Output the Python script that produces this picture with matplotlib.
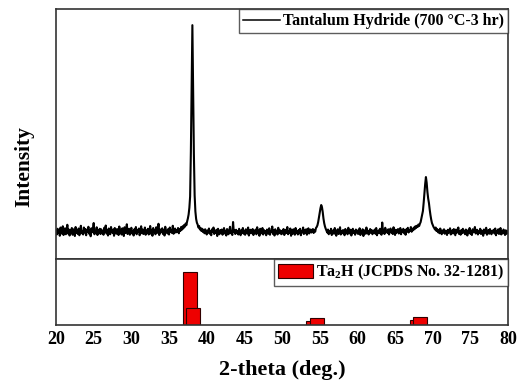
import numpy as np
import matplotlib
matplotlib.use("Agg")
import matplotlib.pyplot as plt
from matplotlib.patches import Patch
from matplotlib.lines import Line2D

plt.rcParams["font.family"] = ["Liberation Serif", "DejaVu Serif"]
plt.rcParams["font.weight"] = "bold"
plt.rcParams["mathtext.fontset"] = "custom"
plt.rcParams["mathtext.rm"] = "Liberation Serif:bold"
plt.rcParams["mathtext.bf"] = "Liberation Serif:bold"

# XRD scan: 2-theta from 20 to 80 deg, 0.1 deg step
two_theta_start = 20.0
two_theta_step = 0.1
intensity = [
    112, 98, 121, 105, 117, 93, 126, 108, 101, 131, 96, 114, 123, 99, 109, 137, 102, 118, 94, 115,
    107, 124, 97, 119, 111, 92, 128, 104, 116, 100, 122, 95, 113, 133, 103, 110, 98, 126, 106, 120,
    95, 117, 109, 129, 101, 114, 91, 123, 107, 118, 144, 99, 112, 104, 127, 96, 115, 108, 121, 100,
    119, 103, 113, 97, 125, 110, 134, 102, 116, 94, 122, 107, 99, 128, 111, 105, 118, 93, 124, 109,
    101, 120, 114, 96, 130, 106, 117, 98, 123, 110, 92, 127, 104, 115, 139, 100, 112, 121, 97, 108,
    125, 102, 111, 94, 119, 106, 128, 99, 116, 109, 122, 95, 113, 131, 103, 118, 100, 107, 126, 97,
    114, 105, 121, 98, 110, 132, 101, 117, 93, 124, 108, 115, 99, 127, 104, 112, 141, 96, 119, 106,
    111, 123, 100, 116, 94, 129, 107, 113, 102, 120, 98, 126, 109, 117, 104, 133, 101, 114, 122, 106,
    115, 108, 124, 103, 119, 112, 128, 117, 131, 122, 136, 129, 142, 135, 150, 162, 178, 205, 250, 430,
    700, 936, 660, 420, 255, 190, 160, 145, 138, 126, 132, 118, 124, 112, 121, 108, 117, 103, 119, 110,
    98, 114, 106, 122, 101, 111, 95, 119, 108, 126, 100, 113, 104, 117, 92, 121, 109, 99, 115, 105,
    118, 97, 110, 124, 102, 113, 94, 120, 107, 99, 116, 129, 103, 111, 96, 148, 108, 114, 100, 117,
    104, 112, 98, 121, 109, 95, 115, 106, 124, 101, 113, 97, 119, 108, 102, 126, 94, 111, 117, 103,
    109, 120, 96, 113, 105, 118, 99, 127, 107, 114, 93, 121, 102, 110, 124, 98, 116, 104, 112, 95,
    118, 106, 101, 123, 97, 112, 108, 130, 100, 115, 94, 119, 105, 111, 98, 125, 103, 116, 109, 99,
    113, 102, 120, 96, 108, 117, 104, 128, 99, 111, 106, 122, 93, 114, 101, 119, 107, 97, 124, 105,
    110, 98, 116, 103, 121, 95, 112, 107, 126, 100, 115, 104, 119, 97, 109, 123, 102, 113, 118, 106,
    111, 120, 104, 116, 109, 124, 128, 135, 148, 166, 184, 203, 216, 208, 188, 162, 143, 130, 121, 114,
    106, 118, 99, 112, 104, 121, 96, 110, 115, 101, 124, 107, 93, 113, 119, 100, 109, 127, 98, 111,
    103, 116, 108, 95, 120, 105, 113, 99, 125, 110, 102, 117, 94, 108, 121, 104, 112, 97, 118, 106,
    114, 100, 109, 123, 96, 111, 105, 119, 92, 115, 108, 101, 126, 103, 113, 98, 110, 120, 104, 116,
    99, 112, 107, 118, 101, 124, 95, 110, 114, 103, 121, 108, 97, 146, 106, 117, 100, 125, 109, 113,
    104, 119, 98, 111, 122, 106, 115, 100, 127, 109, 96, 117, 105, 113, 120, 102, 110, 124, 99, 116,
    108, 121, 103, 114, 97, 119, 110, 125, 106, 116, 112, 128, 109, 121, 115, 126, 119, 131, 124, 133,
    128, 138, 132, 141, 148, 162, 175, 192, 225, 265, 300, 328, 305, 268, 242, 224, 198, 176, 158, 144,
    136, 129, 124, 118, 126, 112, 120, 107, 116, 103, 122, 110, 99, 114, 106, 119, 101, 113, 108, 96,
    117, 104, 111, 123, 98, 109, 115, 102, 120, 107, 95, 118, 105, 112, 126, 100, 110, 97, 116, 103,
    121, 106, 113, 99, 118, 108, 94, 115, 104, 124, 101, 111, 96, 119, 107, 113, 128, 102, 109, 117,
    98, 110, 105, 121, 100, 114, 107, 93, 118, 103, 112, 125, 97, 108, 116, 101, 120, 106, 99, 113,
    109, 117, 102, 122, 95, 111, 106, 119, 100, 114, 124, 98, 110, 103, 118, 107, 96, 115, 101, 112,
    105,
]
two_theta = two_theta_start + two_theta_step * np.arange(len(intensity))

# Ta2H reference pattern (JCPDS No. 32-1281): positions and relative intensities
ref_positions = [37.80, 38.15, 54.10, 54.65, 67.90, 68.35]
ref_intensity = [80, 26, 6, 11, 7.5, 12]

x_ticks = [20, 25, 30, 35, 40, 45, 50, 55, 60, 65, 70, 75, 80]

fig = plt.figure(figsize=(5.25, 3.82), dpi=100)
ax_top = fig.add_axes([0.1067, 0.322, 0.861, 0.654])
ax_bot = fig.add_axes([0.1067, 0.149, 0.861, 0.173], sharex=ax_top)

spine_color = "#333333"
for ax in (ax_top, ax_bot):
    for s in ax.spines.values():
        s.set_linewidth(1.2)
        s.set_color(spine_color)
    ax.set_yticks([])
    ax.tick_params(axis="x", length=0)

ax_top.plot(two_theta, intensity, color="black", linewidth=1.5)
ax_top.set_xlim(20, 80)
ax_top.set_ylim(0, 1000)
ax_top.tick_params(axis="x", labelbottom=False)

ax_bot.bar(ref_positions, ref_intensity, width=1.8, color="#ee0000",
           edgecolor="#300000", linewidth=0.8, align="center")
ax_bot.set_ylim(0, 100)
ax_bot.set_xticks(x_ticks)
ax_bot.set_xticklabels([str(t) for t in x_ticks], fontsize=13, fontweight="bold")
ax_bot.tick_params(axis="x", pad=4)
ax_bot.set_xlabel("2-theta (deg.)", fontsize=16, fontweight="bold", labelpad=9)

fig.text(0.046, 1 - 167 / 382, "Intensity", rotation=90, ha="center", va="center",
         fontsize=15.5, fontweight="bold")

leg1 = ax_top.legend(
    [Line2D([], [], color="black", linewidth=1.1)],
    ["Tantalum Hydride (700 \u00b0C-3 hr)"],
    loc="upper right", frameon=True, fancybox=False, borderaxespad=0,
    handlelength=2.3, handletextpad=0.2, borderpad=0.25,
    prop={"family": "Liberation Serif", "weight": "bold", "size": 11.5},
)
leg1.get_frame().set_edgecolor(spine_color)
leg1.get_frame().set_linewidth(1.0)

leg2 = ax_bot.legend(
    [Patch(facecolor="#ee0000", edgecolor="#300000", linewidth=0.8)],
    [r"Ta$_{\mathbf{2}}$H (JCPDS No. 32-1281)"],
    loc="upper right", frameon=True, fancybox=False, borderaxespad=0,
    handlelength=2.2, handleheight=0.9, handletextpad=0.2, borderpad=0.25,
    prop={"family": "Liberation Serif", "weight": "bold", "size": 11.5},
)
leg2.get_frame().set_edgecolor(spine_color)
leg2.get_frame().set_linewidth(1.0)

fig.savefig("out.png", dpi=100)
